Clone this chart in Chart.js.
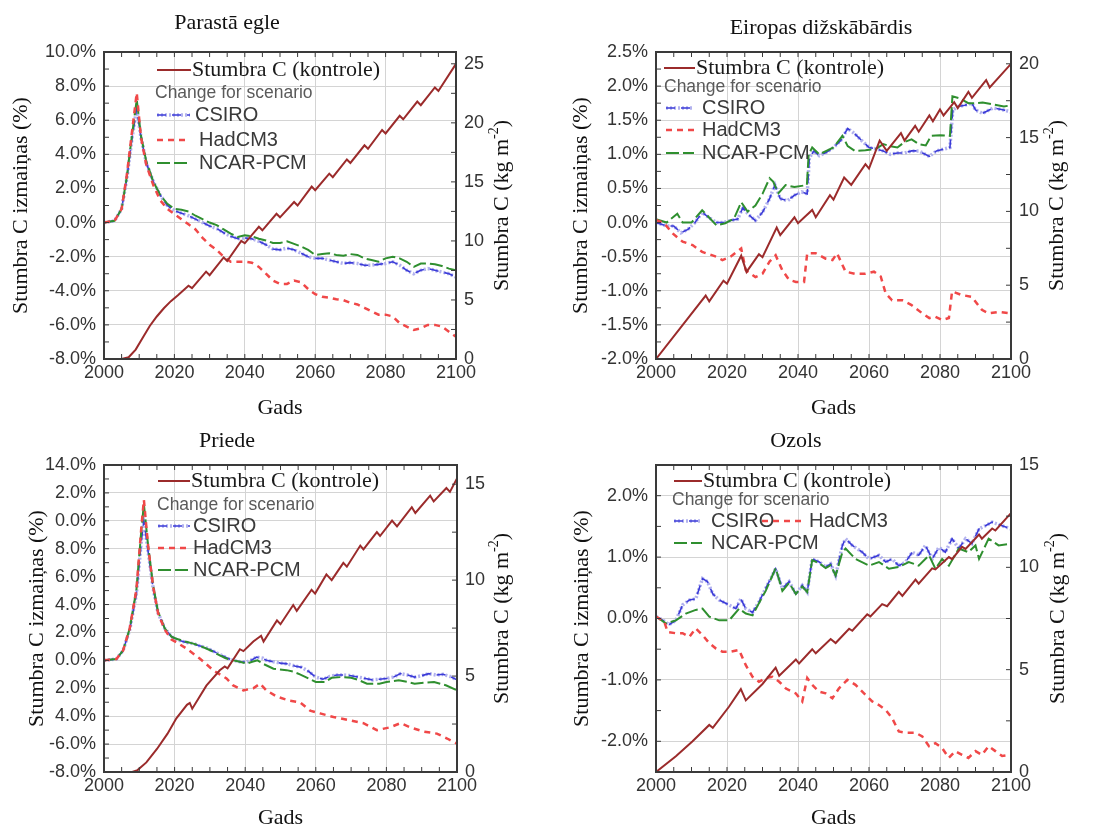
<!DOCTYPE html>
<html>
<head>
<meta charset="utf-8">
<script src="https://cdn.jsdelivr.net/npm/chart.js@4.4.1/dist/chart.umd.min.js"></script>
<style>
  body { margin: 0; background: #fff; width: 1099px; height: 827px; position: relative; overflow: hidden; }
  canvas { position: absolute; }
</style>
</head>
<body>
<canvas id="egle" width="550" height="421" style="left:0;top:0"></canvas>
<canvas id="skabardis" width="550" height="421" style="left:549px;top:0"></canvas>
<canvas id="priede" width="550" height="418" style="left:0;top:413px"></canvas>
<canvas id="ozols" width="550" height="418" style="left:549px;top:413px"></canvas>
<script>
//--------------------------------------------------------------------------------
//--- Data: [year, value] pairs, % change on left axis, stem carbon (kg m-2) on right
//--------------------------------------------------------------------------------

var seriesNames = ['CSIRO', 'HadCM3', 'NCAR-PCM'];
var controlName = 'Stumbra C (kontrole)';
var yearTicks = [2000, 2020, 2040, 2060, 2080, 2100];

// Parastā egle
var egleControl = [[2000,0],[2005,0],[2007,0.15],[2009,0.8],[2011,1.8],[2013,2.8],[2015,3.6],[2017,4.3],[2019,4.9],[2021,5.4],[2024,6.2],[2025,6.0],[2029,7.4],[2030,7.1],[2034,8.6],[2035,8.3],[2039,10.0],[2040,9.8],[2044,11.2],[2045,10.9],[2049,12.3],[2050,12.0],[2054,13.3],[2055,13.0],[2059,14.6],[2060,14.3],[2064,15.7],[2065,15.4],[2069,16.9],[2070,16.6],[2074,18.1],[2075,17.8],[2079,19.4],[2080,19.1],[2084,20.6],[2085,20.3],[2089,21.8],[2090,21.5],[2094,23.0],[2095,22.7],[2100,25.0]];
var egleCsiro = [[2000,0],[2003,0.1],[2005,0.8],[2006.5,2.6],[2008,5.0],[2009.3,6.7],[2010.5,5.0],[2012,3.5],[2014,2.4],[2016,1.6],[2018,1.0],[2020,0.7],[2022,0.55],[2024,0.4],[2026,0.2],[2028,0.0],[2030,-0.2],[2032,-0.35],[2034,-0.6],[2036,-0.8],[2038,-0.95],[2040,-0.9],[2042,-0.95],[2044,-1.1],[2046,-1.3],[2048,-1.55],[2050,-1.6],[2052,-1.5],[2054,-1.6],[2056,-1.8],[2058,-2.0],[2060,-2.1],[2062,-2.1],[2064,-2.2],[2066,-2.3],[2068,-2.4],[2070,-2.35],[2072,-2.4],[2074,-2.5],[2076,-2.5],[2078,-2.45],[2080,-2.4],[2082,-2.3],[2084,-2.5],[2086,-2.8],[2088,-3.0],[2090,-2.8],[2092,-2.7],[2094,-2.8],[2096,-2.9],[2098,-3.0],[2100,-3.2]];
var egleHad = [[2000,0],[2003,0.1],[2005,0.8],[2006.5,2.8],[2008,5.4],[2009.3,7.6],[2010.5,5.0],[2012,3.4],[2014,2.2],[2016,1.3],[2018,0.8],[2020,0.5],[2022,0.2],[2024,-0.1],[2026,-0.4],[2028,-0.9],[2030,-1.3],[2032,-1.6],[2034,-2.0],[2036,-2.3],[2038,-2.3],[2040,-2.3],[2042,-2.35],[2044,-2.6],[2046,-3.0],[2048,-3.4],[2050,-3.6],[2052,-3.6],[2054,-3.4],[2056,-3.5],[2058,-3.9],[2060,-4.2],[2062,-4.35],[2064,-4.4],[2066,-4.5],[2068,-4.55],[2070,-4.7],[2072,-4.8],[2074,-5.0],[2076,-5.2],[2078,-5.4],[2080,-5.4],[2082,-5.5],[2084,-5.9],[2086,-6.1],[2088,-6.3],[2090,-6.2],[2092,-6.0],[2094,-6.0],[2096,-6.1],[2098,-6.4],[2100,-6.7]];
var egleNcar = [[2000,0],[2003,0.1],[2005,0.8],[2006.5,2.7],[2008,5.2],[2009.3,7.2],[2010.5,5.1],[2012,3.6],[2014,2.4],[2016,1.6],[2018,1.1],[2020,0.8],[2022,0.75],[2024,0.65],[2026,0.4],[2028,0.2],[2030,0.0],[2032,-0.15],[2034,-0.4],[2036,-0.65],[2038,-0.85],[2040,-0.75],[2042,-0.8],[2044,-0.95],[2046,-1.05],[2048,-1.2],[2050,-1.2],[2052,-1.1],[2054,-1.25],[2056,-1.4],[2058,-1.6],[2060,-1.9],[2062,-1.85],[2064,-1.8],[2066,-1.9],[2068,-1.95],[2070,-1.85],[2072,-1.9],[2074,-2.1],[2076,-2.2],[2078,-2.3],[2080,-2.1],[2082,-2.0],[2084,-2.1],[2086,-2.3],[2088,-2.6],[2090,-2.4],[2092,-2.4],[2094,-2.45],[2096,-2.55],[2098,-2.7],[2100,-2.8]];
var eglePctTicks = [-8, -6, -4, -2, 0, 2, 4, 6, 8, 10];
var egleKgTicks = [0, 5, 10, 15, 20, 25];

// Eiropas dižskābārdis
var skabControl = [[2000,0],[2014,4.3],[2015,3.9],[2019,5.3],[2020,5.1],[2024,7.0],[2025.5,5.9],[2029,7.1],[2030,6.9],[2034,8.9],[2035,8.4],[2039,9.6],[2040,9.2],[2044,10.1],[2045,9.6],[2049,11.1],[2050,10.8],[2053,12.3],[2055,11.8],[2059,13.2],[2060,12.9],[2063,14.8],[2065,14.1],[2069,15.3],[2070,14.8],[2073,15.8],[2074,15.4],[2077,16.5],[2078,16.1],[2080,16.9],[2081,16.5],[2084,17.4],[2085,17.0],[2088,18.1],[2089,17.7],[2093,18.9],[2094,18.4],[2100,20.0]];
var skabCsiro = [[2000,0.0],[2003,-0.05],[2005,-0.05],[2007,-0.15],[2009,-0.1],[2011,0.0],[2013,0.15],[2015,0.07],[2017,0.0],[2019,0.0],[2021,0.03],[2023,0.05],[2024.5,0.22],[2026,0.12],[2028,0.03],[2030,0.15],[2032,0.35],[2033.5,0.55],[2035,0.35],[2037,0.32],[2039,0.4],[2041,0.45],[2042.6,0.42],[2043.2,0.95],[2044.5,1.05],[2046,0.98],[2048,1.03],[2050,1.1],[2052,1.2],[2054,1.38],[2056,1.3],[2058,1.2],[2060,1.1],[2062,1.08],[2064,1.05],[2066,1.0],[2068,1.02],[2070,1.02],[2072,1.05],[2074,1.05],[2077,0.97],[2079,1.05],[2082.8,1.1],[2083.6,1.65],[2085,1.7],[2087,1.72],[2089,1.75],[2090,1.65],[2092,1.6],[2095,1.68],[2098,1.65],[2100,1.62]];
var skabHad = [[2000,0.04],[2002.3,-0.01],[2004.7,-0.16],[2007.5,-0.28],[2010.3,-0.33],[2013,-0.43],[2017,-0.5],[2018.7,-0.55],[2021,-0.5],[2024,-0.38],[2025.3,-0.7],[2028,-0.8],[2030,-0.75],[2032,-0.57],[2033.7,-0.48],[2035.6,-0.7],[2037.5,-0.84],[2039.4,-0.87],[2041.7,-0.87],[2042.6,-0.45],[2045,-0.45],[2047.8,-0.53],[2049.7,-0.55],[2051,-0.45],[2053.4,-0.72],[2056,-0.75],[2059,-0.75],[2061.4,-0.72],[2063.3,-0.79],[2064.7,-1.04],[2066.5,-1.14],[2069.4,-1.14],[2072,-1.21],[2075,-1.33],[2077,-1.4],[2078.7,-1.38],[2080.6,-1.43],[2082.5,-1.4],[2083.4,-1.01],[2086,-1.06],[2089,-1.09],[2091.8,-1.28],[2093.7,-1.33],[2096.5,-1.31],[2100,-1.33]];
var skabNcar = [[2000,0.05],[2003,0.0],[2006,0.13],[2007.5,0.0],[2010,0.0],[2013,0.18],[2014.5,0.1],[2017,-0.04],[2019.5,-0.01],[2022,0.06],[2024,0.3],[2025.8,0.16],[2028,0.25],[2030,0.42],[2032,0.65],[2033,0.6],[2034.5,0.43],[2036.5,0.55],[2039,0.52],[2042.5,0.55],[2043,1.0],[2044,1.1],[2046,1.0],[2048,1.05],[2050,1.1],[2052.5,1.27],[2054,1.12],[2056,1.05],[2059,1.06],[2062,1.08],[2064,1.15],[2066,1.12],[2068,1.1],[2070,1.18],[2072,1.22],[2074,1.15],[2076,1.13],[2077.5,1.27],[2080,1.28],[2082.8,1.27],[2083.5,1.85],[2085.5,1.82],[2088,1.75],[2090,1.75],[2092,1.76],[2095,1.73],[2098,1.7],[2100,1.72]];
var skabPctTicks = [-2, -1.5, -1, -0.5, 0, 0.5, 1, 1.5, 2, 2.5];
var skabKgTicks = [0, 5, 10, 15, 20];

// Priede
var priedeControl = [[2000,0],[2008,0],[2009.5,0.1],[2012,0.5],[2015,1.2],[2018,2.0],[2020.5,2.8],[2023.5,3.5],[2024.3,3.6],[2025,3.3],[2029,4.5],[2032.8,5.3],[2034.2,5.5],[2035,5.4],[2038.5,6.4],[2039.5,6.3],[2042.3,6.8],[2044.5,7.1],[2045.2,6.8],[2049,7.9],[2050,7.7],[2053.6,8.7],[2054.6,8.4],[2058.8,9.5],[2059.8,9.3],[2063,10.3],[2064.5,10.0],[2067.8,10.9],[2068.8,10.7],[2072.6,11.8],[2073.5,11.6],[2077.3,12.5],[2078.2,12.3],[2081.6,13.1],[2083,12.8],[2087.2,13.8],[2088.2,13.5],[2092.4,14.4],[2093.4,14.1],[2097,14.8],[2098,14.6],[2100,15.3]];
var priedeCsiro = [[2000,0],[2003.5,0.1],[2005.4,0.7],[2007.3,2.2],[2009.2,4.8],[2010.6,8.6],[2011.3,10.0],[2012.5,7.8],[2013.9,5.2],[2015.3,3.4],[2017.2,2.3],[2019.1,1.7],[2020.5,1.5],[2023,1.3],[2025.3,1.2],[2027,1.05],[2029,0.9],[2031,0.65],[2033,0.4],[2035,0.15],[2036.6,0.0],[2038.5,-0.1],[2040.4,-0.12],[2042,0.05],[2043.2,0.24],[2045,0.15],[2046,0.0],[2048,-0.1],[2050,-0.2],[2052,-0.25],[2054,-0.4],[2056,-0.5],[2058,-0.8],[2060,-1.2],[2062,-1.35],[2064,-1.15],[2066,-1.05],[2068,-1.05],[2070,-1.1],[2072,-1.2],[2074,-1.3],[2076,-1.4],[2078,-1.35],[2080,-1.3],[2082,-1.2],[2084,-0.95],[2086,-1.05],[2088,-1.2],[2090,-1.1],[2092,-0.95],[2094,-1.05],[2096,-1.0],[2098,-1.15],[2100,-1.4]];
var priedeHad = [[2000,0],[2003.5,0.1],[2005.4,0.7],[2007.3,2.3],[2009.2,5.1],[2010.6,9.6],[2011.3,11.5],[2012.5,8.2],[2013.9,5.3],[2015.3,3.4],[2017.2,2.2],[2019.1,1.5],[2020.5,1.3],[2023.4,0.84],[2027.2,0.12],[2031,-0.72],[2034.7,-1.3],[2036.6,-1.8],[2039.5,-2.15],[2042.3,-2.0],[2044.2,-1.67],[2046,-2.15],[2049,-2.6],[2052.7,-2.9],[2055.5,-3.0],[2058.4,-3.6],[2061.2,-3.8],[2065,-4.06],[2069.7,-4.3],[2073.5,-4.5],[2077.3,-5.0],[2081,-4.8],[2084,-4.5],[2086.8,-4.8],[2090.5,-5.1],[2094.3,-5.25],[2097.2,-5.6],[2100,-5.97]];
var priedeNcar = [[2000,0],[2003.5,0.1],[2005.4,0.7],[2007.3,2.3],[2009.2,5.1],[2010.6,9.4],[2011.3,11.2],[2012.5,8.2],[2013.9,5.4],[2015.3,3.5],[2017.2,2.3],[2019.1,1.7],[2020.5,1.55],[2023,1.35],[2025.3,1.2],[2027,1.05],[2029,0.85],[2031,0.6],[2032.8,0.36],[2034.5,0.15],[2036.6,0.0],[2038.5,-0.1],[2040.4,-0.24],[2042,-0.1],[2043.5,0.0],[2045,-0.24],[2048,-0.6],[2051.7,-0.7],[2053.5,-0.8],[2055.5,-1.0],[2058,-1.3],[2060,-1.55],[2062.5,-1.55],[2064.5,-1.25],[2067,-1.2],[2070,-1.25],[2072,-1.4],[2074.5,-1.67],[2078,-1.67],[2080,-1.55],[2083.5,-1.43],[2086,-1.55],[2088,-1.67],[2091,-1.6],[2093.5,-1.55],[2097,-1.8],[2100,-2.15]];
var priedePctTicks = [-8, -6, -4, -2, 0, 2, 4, 6, 8, 10, 12, 14];
var priedePctLabels = ['-8.0%', '-6.0%', '4.0%', '2.0%', '0.0%', '2.0%', '4.0%', '6.0%', '8.0%', '0.0%', '2.0%', '14.0%'];
var priedeKgTicks = [0, 5, 10, 15];

// Ozols
var ozolsControl = [[2000,0],[2005.6,0.77],[2010.3,1.5],[2015,2.3],[2016,2.16],[2020.6,3.2],[2023.9,4.05],[2025.3,3.5],[2030,4.3],[2033.7,5.1],[2034.7,4.7],[2039.4,5.5],[2040.3,5.3],[2044,6.0],[2045,5.8],[2049.2,6.5],[2050.6,6.3],[2054.4,7.0],[2055.3,6.9],[2059.5,7.7],[2060.4,7.6],[2063.7,8.2],[2065.1,8.1],[2068.4,8.8],[2069.4,8.6],[2073.1,9.4],[2074,9.2],[2077.8,9.95],[2078.7,9.9],[2082.5,10.5],[2083.4,10.4],[2086.2,11.0],[2087.2,10.9],[2091,11.6],[2091.8,11.4],[2094.7,11.9],[2095.6,11.8],[2100,12.65]];
var ozolsCsiro = [[2000,0.03],[2002,-0.03],[2003.7,-0.1],[2005.6,-0.03],[2007.5,0.22],[2009.4,0.3],[2011.2,0.32],[2013.1,0.65],[2014.5,0.6],[2016,0.4],[2017.8,0.3],[2020.6,0.22],[2022.5,0.16],[2023.9,0.32],[2025.3,0.16],[2027.2,0.1],[2029,0.27],[2030.9,0.49],[2033.7,0.81],[2035.6,0.49],[2037.5,0.6],[2039.4,0.4],[2041.2,0.54],[2042.6,0.43],[2044,0.97],[2046,0.92],[2047.8,0.84],[2049.2,0.89],[2050.6,0.7],[2052.5,1.19],[2053.4,1.3],[2055.3,1.19],[2058.1,1.08],[2060,0.97],[2062.8,1.03],[2064.7,0.92],[2066.5,0.97],[2068.4,0.86],[2070.3,0.92],[2072.2,1.08],[2074,1.03],[2075.9,1.19],[2077.8,0.97],[2079.7,1.16],[2081.5,1.08],[2083.4,1.3],[2085.3,1.14],[2087.2,1.3],[2089,1.22],[2091,1.46],[2092.8,1.51],[2094.7,1.57],[2097.5,1.51],[2100,1.46]];
var ozolsHad = [[2000,0.03],[2002.3,-0.05],[2003.3,-0.22],[2005.6,-0.24],[2007.5,-0.24],[2009.4,-0.3],[2011.2,-0.16],[2013.1,-0.27],[2015,-0.4],[2016.9,-0.49],[2018.7,-0.54],[2021,-0.54],[2023.4,-0.51],[2025.3,-0.76],[2027.2,-0.95],[2029,-1.03],[2030.9,-0.97],[2032.8,-0.95],[2034.7,-1.03],[2036.6,-1.14],[2039.4,-1.22],[2041.2,-1.35],[2042.6,-0.97],[2044,-1.08],[2045.9,-1.19],[2047.8,-1.22],[2049.7,-1.3],[2051.5,-1.14],[2053.9,-1.0],[2056.2,-1.08],[2058.6,-1.22],[2060.9,-1.35],[2062.8,-1.41],[2064.7,-1.49],[2066.5,-1.62],[2068.4,-1.84],[2070.3,-1.86],[2073.1,-1.86],[2075,-1.92],[2076.9,-2.08],[2078.7,-2.03],[2080.6,-2.11],[2082.5,-2.27],[2084.3,-2.16],[2086.2,-2.22],[2088,-2.27],[2090,-2.16],[2091.8,-2.22],[2093.7,-2.08],[2095.6,-2.16],[2097.5,-2.24],[2100,-2.22]];
var ozolsNcar = [[2000,0.03],[2002.8,-0.08],[2005.6,-0.03],[2008.4,0.08],[2011.2,0.14],[2013.1,0.16],[2015,0.03],[2017.8,-0.03],[2020.6,-0.03],[2023.4,0.16],[2025.3,0.08],[2027.2,0.05],[2029,0.25],[2030.9,0.45],[2033.7,0.82],[2035.6,0.45],[2037.5,0.58],[2039.4,0.4],[2041.2,0.52],[2042.6,0.43],[2044,0.95],[2046,0.9],[2047.8,0.82],[2049.2,0.87],[2050.6,0.7],[2052.5,1.08],[2053.4,1.14],[2056.2,0.97],[2060,0.86],[2062.8,0.92],[2065.6,0.81],[2068.4,0.84],[2071.2,0.92],[2074,0.86],[2076.9,1.03],[2078.7,0.81],[2080.6,0.97],[2082.5,0.86],[2085.3,1.14],[2088,1.08],[2090,1.19],[2091,0.97],[2093.7,1.3],[2096.5,1.19],[2100,1.22]];
var ozolsPctTicks = [-2, -1, 0, 1, 2];
var ozolsKgTicks = [0, 5, 10, 15];

//--------------------------------------------------------------------------------
//--- Styles and helpers
//--------------------------------------------------------------------------------

var STYLE = {
    control: {color: '#9b2b2b', dash: [], width: 2},
    had: {color: '#f04848', dash: [6, 5], width: 2.5},
    ncar: {color: '#2f8f2f', dash: [13, 4], width: 2},
    csiro: {color: '#3b3bd8', dash: [9, 6], width: 1.6},
    csiroHalo: {color: 'rgba(165,165,235,0.85)', dash: [2, 2], width: 3.5}
};
var SERIF = '"Liberation Serif", "Times New Roman", serif';
var SANS = '"Liberation Sans", Arial, sans-serif';

function line(points, st, axis) {
    return {
        data: points.map(function (p) { return {x: p[0], y: p[1]}; }),
        yAxisID: axis, borderColor: st.color, borderDash: st.dash, borderWidth: st.width,
        pointRadius: 0, fill: false, tension: 0
    };
}

function fixTicks(values) {
    return function (scale) { scale.ticks = values.map(function (v) { return {value: v}; }); };
}

function strokeSample(ctx, st, x1, x2, y) {
    ctx.save();
    ctx.strokeStyle = st.color; ctx.lineWidth = st.width; ctx.setLineDash(st.dash);
    ctx.beginPath(); ctx.moveTo(x1, y); ctx.lineTo(x2, y); ctx.stroke();
    ctx.restore();
}

// frame, minor ticks, title, right axis title and the inner legend
var panelDecor = {
    id: 'panelDecor',
    afterDatasetsDraw: function (chart, args, o) {
        var ctx = chart.ctx, a = chart.chartArea, s = chart.scales;
        ctx.save();
        ctx.strokeStyle = '#3a3a3a'; ctx.lineWidth = 2; ctx.setLineDash([]);
        ctx.strokeRect(a.left, a.top, a.right - a.left, a.bottom - a.top);

        ctx.lineWidth = 1; ctx.beginPath();
        for (var yr = 2005; yr < 2100; yr += 5) {
            var px = s.x.getPixelForValue(yr);
            ctx.moveTo(px, a.bottom); ctx.lineTo(px, a.bottom - 5);
            ctx.moveTo(px, a.top); ctx.lineTo(px, a.top + 5);
        }
        [['y', a.left, 5], ['y2', a.right, -5]].forEach(function (side) {
            var sc = s[side[0]], t = sc.ticks;
            for (var i = 0; i < t.length; i++) {
                var vals = [t[i].value];
                if (i + 1 < t.length) vals.push((t[i].value + t[i + 1].value) / 2);
                vals.forEach(function (v) {
                    var py = sc.getPixelForValue(v);
                    ctx.moveTo(side[1], py); ctx.lineTo(side[1] + side[2], py);
                });
            }
        });
        ctx.stroke();

        ctx.fillStyle = '#111';
        ctx.font = '22px ' + SERIF; ctx.textAlign = 'center'; ctx.textBaseline = 'alphabetic';
        ctx.fillText(o.title, o.titleX, o.titleY);

        // right axis title, reading bottom to top, with superscript
        var main = 'Stumbra C (kg m', sup = '-2', end = ')';
        ctx.font = '22px ' + SERIF; var w1 = ctx.measureText(main).width, w3 = ctx.measureText(end).width;
        ctx.font = '14px ' + SERIF; var w2 = ctx.measureText(sup).width;
        var total = w1 + w2 + w3;
        ctx.save();
        ctx.translate(o.rightTitleX, (a.top + a.bottom) / 2);
        ctx.rotate(-Math.PI / 2);
        ctx.textAlign = 'left'; ctx.textBaseline = 'middle';
        ctx.font = '22px ' + SERIF; ctx.fillText(main, -total / 2, 0);
        ctx.font = '14px ' + SERIF; ctx.fillText(sup, -total / 2 + w1, -8);
        ctx.font = '22px ' + SERIF; ctx.fillText(end, -total / 2 + w1 + w2, 0);
        ctx.restore();

        // legend
        var L = o.legend, x0 = a.left, y0 = a.top;
        strokeSample(ctx, STYLE.control, x0 + L.ctrl[0], x0 + L.ctrl[1], y0 + L.ctrl[3]);
        ctx.textAlign = 'left'; ctx.textBaseline = 'middle';
        ctx.fillStyle = '#1a1a1a'; ctx.font = '22px ' + SERIF;
        ctx.fillText(controlName, x0 + L.ctrl[2], y0 + L.ctrl[3]);
        ctx.fillStyle = '#5a5a5a'; ctx.font = '17.5px ' + SANS;
        ctx.fillText('Change for scenario', x0 + L.header[0], y0 + L.header[1]);
        var keys = ['csiro', 'had', 'ncar'];
        L.series.forEach(function (r, i) {
            if (keys[i] === 'csiro') strokeSample(ctx, STYLE.csiroHalo, x0 + r[0], x0 + r[1], y0 + r[3]);
            strokeSample(ctx, STYLE[keys[i]], x0 + r[0], x0 + r[1], y0 + r[3]);
            ctx.fillStyle = '#3a3a3a'; ctx.font = '20px ' + SANS;
            ctx.fillText(seriesNames[i], x0 + r[2], y0 + r[3]);
        });
        ctx.restore();
    }
};

function makePanel(id, d, p) {
    return new Chart(document.getElementById(id).getContext('2d'), {
        type: 'line',
        data: {
            datasets: [
                line(d.control, STYLE.control, 'y2'),
                line(d.had, STYLE.had, 'y'),
                line(d.ncar, STYLE.ncar, 'y'),
                line(d.csiro, STYLE.csiro, 'y'),
                line(d.csiro, STYLE.csiroHalo, 'y')
            ]
        },
        options: {
            responsive: false, animation: false,
            layout: {padding: {top: 52, left: 0, right: 0, bottom: 0}},
            scales: {
                x: {
                    type: 'linear', min: 2000, max: 2100,
                    afterBuildTicks: fixTicks(yearTicks),
                    afterFit: function (sc) { sc.height = p.bottomH; },
                    grid: {color: '#d4d4d4', drawTicks: false},
                    border: {display: false},
                    ticks: {padding: 3, maxRotation: 0, autoSkip: false, color: '#333', font: {family: SANS, size: 18},
                            callback: function (v) { return String(v); }},
                    title: {display: true, text: 'Gads', color: '#111', font: {family: SERIF, size: 22}, padding: 0}
                },
                y: {
                    position: 'left', min: p.pctMin, max: p.pctMax,
                    afterBuildTicks: fixTicks(d.pctTicks),
                    afterFit: function (sc) { sc.width = p.leftW; },
                    grid: {color: '#d4d4d4', drawTicks: false},
                    border: {display: false},
                    ticks: {padding: 8, autoSkip: false, color: '#333', font: {family: SANS, size: 18},
                            callback: function (v, i) { return d.pctLabels ? d.pctLabels[i] : v.toFixed(1) + '%'; }},
                    title: {display: true, text: 'Stumbra C izmaiņas (%)', color: '#111',
                            font: {family: SERIF, size: 22}, padding: {top: p.leftTitlePad, bottom: 0}}
                },
                y2: {
                    position: 'right', min: 0, max: p.kgMax,
                    afterBuildTicks: fixTicks(d.kgTicks),
                    afterFit: function (sc) { sc.width = p.rightW; },
                    grid: {display: false, drawTicks: false},
                    border: {display: false},
                    ticks: {padding: 8, autoSkip: false, color: '#333', font: {family: SANS, size: 18}}
                }
            },
            plugins: {
                legend: {display: false}, tooltip: {enabled: false},
                panelDecor: {title: p.title, titleX: p.titleX, titleY: p.titleY, rightTitleX: p.rightTitleX, legend: p.legend}
            }
        },
        plugins: [panelDecor]
    });
}

//----------------------------------------
//--- The four panels
//----------------------------------------

var egle_chart = makePanel('egle',
    {control: egleControl, csiro: egleCsiro, had: egleHad, ncar: egleNcar, pctTicks: eglePctTicks, kgTicks: egleKgTicks},
    {title: 'Parastā egle', titleX: 227, titleY: 29, pctMin: -8, pctMax: 10, kgMax: 26,
     leftW: 104, rightW: 94, bottomH: 62, leftTitlePad: 8, rightTitleX: 502,
     legend: {ctrl: [53, 87, 88, 18], header: [51, 41], series: [[53, 86, 91, 63], [53, 86, 95, 88], [53, 86, 95, 111]]}});

var skabardis_chart = makePanel('skabardis',
    {control: skabControl, csiro: skabCsiro, had: skabHad, ncar: skabNcar, pctTicks: skabPctTicks, kgTicks: skabKgTicks},
    {title: 'Eiropas dižskābārdis', titleX: 272, titleY: 34, pctMin: -2, pctMax: 2.5, kgMax: 20.8,
     leftW: 107, rightW: 88, bottomH: 62, leftTitlePad: 19, rightTitleX: 508,
     legend: {ctrl: [8, 39, 40, 16], header: [8, 35], series: [[10, 38, 46, 56], [10, 38, 46, 78], [10, 38, 46, 101]]}});

var priede_chart = makePanel('priede',
    {control: priedeControl, csiro: priedeCsiro, had: priedeHad, ncar: priedeNcar, pctTicks: priedePctTicks, pctLabels: priedePctLabels, kgTicks: priedeKgTicks},
    {title: 'Priede', titleX: 227, titleY: 34, pctMin: -8, pctMax: 14, kgMax: 16,
     leftW: 104, rightW: 93, bottomH: 59, leftTitlePad: 24, rightTitleX: 502,
     legend: {ctrl: [54, 86, 87, 16], header: [53, 40], series: [[54, 86, 89, 61], [54, 86, 89, 83], [54, 86, 89, 105]]}});

var ozols_chart = makePanel('ozols',
    {control: ozolsControl, csiro: ozolsCsiro, had: ozolsHad, ncar: ozolsNcar, pctTicks: ozolsPctTicks, kgTicks: ozolsKgTicks},
    {title: 'Ozols', titleX: 247, titleY: 34, pctMin: -2.5, pctMax: 2.5, kgMax: 15,
     leftW: 107, rightW: 88, bottomH: 59, leftTitlePad: 20, rightTitleX: 509,
     legend: {ctrl: [18, 46, 47, 16], header: [16, 35], series: [[18, 46, 55, 56], [106, 146, 153, 56], [18, 46, 55, 78]]}});
</script>
</body>
</html>
